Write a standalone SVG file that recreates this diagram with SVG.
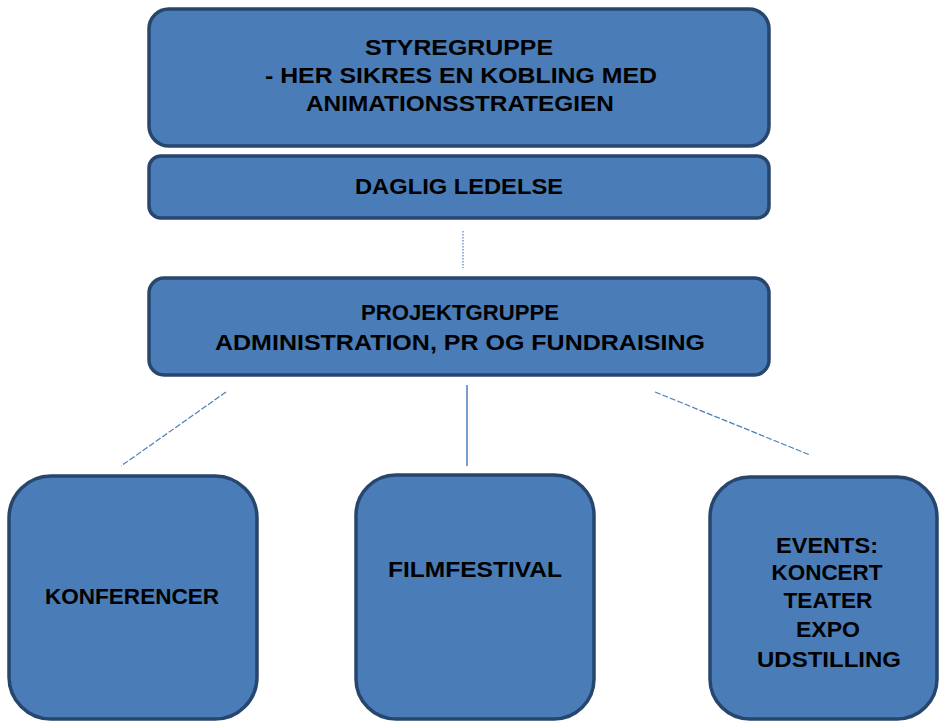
<svg xmlns="http://www.w3.org/2000/svg" width="939" height="722" viewBox="0 0 939 722">
<style>
.box{fill:#4a7cb7;stroke:#27466d;stroke-width:3.5}
.t{font-family:"Liberation Sans",Arial,sans-serif;font-weight:bold;font-size:22px;fill:#000;text-anchor:middle}
.c{stroke:#4a7ebb;fill:none}
</style>
<rect width="939" height="722" fill="#fff"/>
<g id="connectors">
<line class="c" x1="463" y1="231" x2="463" y2="268" stroke-width="1.5" stroke-dasharray="1.5 1.5" opacity="0.8"/>
<line class="c" x1="226" y1="392" x2="121" y2="466" stroke-width="1.2" stroke-dasharray="6 2"/>
<line class="c" x1="467" y1="385" x2="467" y2="466" stroke-width="1.5"/>
<line class="c" x1="655" y1="392" x2="810" y2="455" stroke-width="1.2" stroke-dasharray="6 2"/>
</g>
<g id="styregruppe">
<rect class="box" x="149" y="9" width="620" height="137" rx="20"/>
<text class="t" x="459" y="55" textLength="188" lengthAdjust="spacingAndGlyphs">STYREGRUPPE</text>
<text class="t" x="461" y="83" textLength="392" lengthAdjust="spacingAndGlyphs">- HER SIKRES  EN KOBLING  MED</text>
<text class="t" x="460" y="111" textLength="308" lengthAdjust="spacingAndGlyphs">ANIMATIONSSTRATEGIEN</text>
</g>
<g id="daglig">
<rect class="box" x="149" y="156" width="620" height="62" rx="12"/>
<text class="t" x="459" y="194" textLength="208" lengthAdjust="spacingAndGlyphs">DAGLIG  LEDELSE</text>
</g>
<g id="projektgruppe">
<rect class="box" x="149" y="278" width="620" height="97" rx="15"/>
<text class="t" x="460" y="320" textLength="198" lengthAdjust="spacingAndGlyphs">PROJEKTGRUPPE</text>
<text class="t" x="460" y="350" textLength="490" lengthAdjust="spacingAndGlyphs">ADMINISTRATION,  PR OG FUNDRAISING</text>
</g>
<g id="konferencer">
<rect class="box" x="9" y="476" width="248" height="243" rx="42"/>
<text class="t" x="132" y="604" textLength="174" lengthAdjust="spacingAndGlyphs">KONFERENCER</text>
</g>
<g id="filmfestival">
<rect class="box" x="356" y="475" width="238" height="244" rx="40"/>
<text class="t" x="475" y="577" textLength="174" lengthAdjust="spacingAndGlyphs">FILMFESTIVAL</text>
</g>
<g id="events">
<rect class="box" x="710" y="477" width="227" height="242" rx="40"/>
<text class="t" x="827" y="553" textLength="102" lengthAdjust="spacingAndGlyphs">EVENTS:</text>
<text class="t" x="827" y="580" textLength="111" lengthAdjust="spacingAndGlyphs">KONCERT</text>
<text class="t" x="828" y="608" textLength="89" lengthAdjust="spacingAndGlyphs">TEATER</text>
<text class="t" x="828" y="637" textLength="64" lengthAdjust="spacingAndGlyphs">EXPO</text>
<text class="t" x="829" y="667" textLength="144" lengthAdjust="spacingAndGlyphs">UDSTILLING</text>
</g>
</svg>
